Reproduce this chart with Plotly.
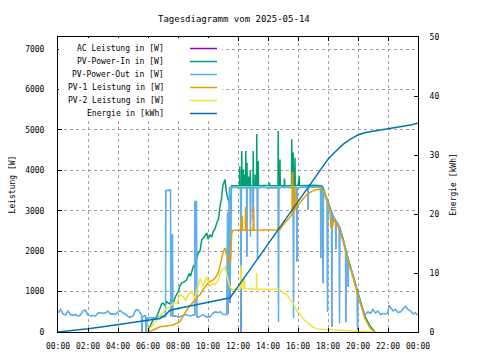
import plotly.graph_objects as go
from datetime import datetime, timedelta

TITLE = "Tagesdiagramm vom 2025-05-14"
Y_TITLE = "Leistung [W]"
Y2_TITLE = "Energie [kWh]"
SERIES_NAMES = ["AC Leistung in [W]", "PV-Power-In in [W]", "PV-Power-Out in [W]",
                "PV-1 Leistung in [W]", "PV-2 Leistung in [W]", "Energie in [kWh]"]
COLORS = ["#9400d3", "#009e73", "#56b4e9", "#e69f00", "#f0e442", "#0072b2"]

pv_power_out = [
    ("00:00", 470), ("00:10", 560), ("00:20", 450), ("00:30", 420), ("00:40", 520), ("00:50", 430),
    ("01:00", 410), ("01:10", 430), ("01:20", 400), ("01:30", 420), ("01:40", 530), ("01:50", 540),
    ("02:00", 420), ("02:10", 400), ("02:20", 410), ("02:30", 400), ("02:40", 470), ("02:50", 480),
    ("03:00", 460), ("03:10", 470), ("03:20", 520), ("03:30", 440), ("03:40", 450), ("03:50", 430),
    ("04:00", 500), ("04:10", 530), ("04:20", 470), ("04:30", 440), ("04:40", 380), ("04:50", 370),
    ("05:00", 390), ("05:10", 540), ("05:20", 550), ("05:30", 450), ("05:34", 430), ("05:36", 0),
    ("05:38", 380), ("05:50", 400), ("05:53", 0), ("05:56", 350), ("06:10", 360), ("06:20", 340),
    ("06:30", 350), ("06:40", 360), ("06:50", 400), ("07:00", 380), ("07:10", 380), ("07:11", 3500),
    ("07:30", 3510), ("07:31", 390), ("07:32", 2420), ("07:38", 2400), ("07:39", 390), ("07:50", 400),
    ("08:00", 370), ("08:10", 380), ("08:20", 420), ("08:30", 440), ("08:40", 410), ("08:50", 400),
    ("09:00", 420), ("09:07", 420), ("09:08", 3230), ("09:14", 3230), ("09:15", 380), ("09:20", 360),
    ("09:30", 400), ("09:40", 420), ("09:50", 380), ("10:00", 370), ("10:10", 380), ("10:20", 470),
    ("10:30", 500), ("10:40", 480), ("10:50", 500), ("11:00", 440), ("11:10", 430), ("11:16", 430),
    ("11:18", 2950), ("11:20", 450), ("11:26", 3580), ("11:28", 720), ("11:33", 3580), ("11:50", 3570),
    ("12:10", 3570), ("12:12", 0), ("12:14", 3570), ("12:34", 3570), ("12:35", 1870), ("12:36", 3570),
    ("12:49", 3570), ("12:50", 2370), ("12:51", 3570), ("13:00", 3560), ("13:01", 2780), ("13:02", 3570),
    ("13:17", 3570), ("13:18", 1800), ("13:19", 3570), ("13:40", 3580), ("14:00", 3570), ("14:41", 3570),
    ("14:42", 255), ("14:43", 3570), ("15:00", 3580), ("15:41", 3570), ("15:42", 350), ("15:43", 3570),
    ("15:54", 3570), ("15:55", 1750), ("15:56", 3570), ("16:20", 3580), ("16:40", 3580), ("16:41", 3030),
    ("16:42", 3590), ("17:00", 3590), ("17:30", 3590), ("17:31", 1830), ("17:32", 3580), ("17:38", 3560),
    ("17:41", 1210), ("17:42", 3500), ("17:48", 3400), ("17:57", 3260), ("17:58", 505), ("17:59", 3240),
    ("18:08", 3030), ("18:14", 2950), ("18:15", 130), ("18:16", 2930), ("18:28", 2780), ("18:30", 2760),
    ("18:31", 2050), ("18:32", 2750), ("18:41", 2660), ("18:45", 2620), ("18:46", 220), ("18:47", 2600),
    ("19:01", 2285), ("19:10", 2050), ("19:11", 255), ("19:12", 2030), ("19:20", 1810), ("19:21", 1125),
    ("19:22", 1790), ("19:41", 1375), ("19:57", 1000), ("19:58", 50), ("19:59", 980), ("20:01", 920),
    ("20:15", 630), ("20:28", 420), ("20:40", 500), ("20:50", 460), ("21:00", 560), ("21:10", 470),
    ("21:20", 520), ("21:30", 430), ("21:40", 460), ("21:50", 450), ("22:00", 470), ("22:04", 660),
    ("22:10", 610), ("22:20", 520), ("22:30", 560), ("22:40", 480), ("22:50", 500), ("23:00", 560),
    ("23:10", 640), ("23:20", 560), ("23:30", 520), ("23:40", 450), ("23:50", 470), ("24:00", 420),
]

# AC output is read as identical to PV-Power-Out (it is hidden beneath it in the picture)
ac_leistung = list(pv_power_out)

pv_power_in = [
    ("05:58", 0), ("06:10", 150), ("06:20", 300), ("06:35", 380), ("06:45", 560), ("06:55", 700),
    ("07:01", 710), ("07:08", 650), ("07:15", 750), ("07:25", 700), ("07:35", 780), ("07:41", 715),
    ("07:50", 880), ("08:01", 1000), ("08:08", 1150), ("08:15", 1215), ("08:25", 1240), ("08:35", 1290),
    ("08:45", 1450), ("08:50", 1380), ("09:01", 1620), ("09:10", 1700), ("09:21", 1955), ("09:28", 2000),
    ("09:35", 2285), ("09:45", 2350), ("09:55", 2450), ("10:00", 2300), ("10:08", 2400), ("10:15", 2350),
    ("10:21", 2490), ("10:28", 2550), ("10:35", 2700), ("10:42", 2800), ("10:48", 3110), ("10:54", 3300),
    ("10:59", 3610), ("11:04", 3700), ("11:08", 3775), ("11:13", 3500), ("11:17", 3360), ("11:25", 3200),
    ("11:30", 3300), ("11:35", 3620), ("12:06", 3620), ("12:07", 4100), ("12:08", 3620), ("12:14", 3620),
    ("12:15", 4480), ("12:16", 3620), ("12:20", 3620), ("12:21", 4020), ("12:22", 3620), ("12:24", 3620),
    ("12:25", 3900), ("12:26", 3620), ("12:30", 3620), ("12:31", 4480), ("12:32", 3620), ("12:35", 3620),
    ("12:36", 4190), ("12:37", 3620), ("12:42", 3620), ("12:43", 3850), ("12:44", 3620), ("12:48", 3620),
    ("12:49", 4000), ("12:50", 3620), ("13:00", 3620), ("13:01", 4480), ("13:02", 3620), ("13:08", 3620),
    ("13:09", 3900), ("13:10", 3620), ("13:14", 3620), ("13:15", 4900), ("13:16", 3620), ("13:20", 3620),
    ("13:21", 4230), ("13:22", 3620), ("14:05", 3630), ("14:06", 3700), ("14:07", 3620), ("14:40", 3620),
    ("14:41", 4975), ("14:42", 3620), ("14:47", 3620), ("14:48", 4270), ("14:49", 3620), ("15:05", 3620),
    ("15:06", 3800), ("15:07", 3620), ("15:34", 3620), ("15:35", 4770), ("15:36", 3620), ("15:40", 3620),
    ("15:41", 4440), ("15:42", 3620), ("15:47", 3620), ("15:48", 4310), ("15:49", 3620), ("16:00", 3630),
    ("16:05", 3850), ("16:06", 3620), ("16:30", 3630), ("17:00", 3630), ("17:35", 3620), ("17:41", 3560),
    ("17:48", 3430), ("17:55", 3300), ("18:08", 3060), ("18:14", 2950), ("18:20", 2870), ("18:28", 2780),
    ("18:41", 2650), ("19:01", 2280), ("19:21", 1790), ("19:41", 1380), ("20:01", 930), ("20:15", 640),
    ("20:28", 380), ("20:48", 150), ("21:08", 0),
]

pv1_leistung = [
    ("05:58", 0), ("06:21", 50), ("06:48", 130), ("07:10", 150), ("07:41", 175), ("08:08", 255),
    ("08:20", 400), ("08:35", 546), ("08:48", 650), ("09:01", 750), ("09:15", 850), ("09:28", 920),
    ("09:40", 1050), ("09:55", 1170), ("10:08", 1250), ("10:21", 1290), ("10:30", 1350), ("10:41", 1455),
    ("10:48", 1650), ("10:55", 1870), ("11:02", 2000), ("11:08", 2080), ("11:12", 1950), ("11:17", 1900),
    ("11:25", 1700), ("11:30", 1750), ("11:33", 2100), ("11:35", 2450), ("11:40", 2520), ("12:13", 2520),
    ("12:14", 2860), ("12:17", 2860), ("12:18", 2520), ("12:29", 2520), ("12:30", 3100), ("12:32", 2600),
    ("12:33", 2520), ("13:00", 2520), ("13:01", 3110), ("13:03", 3110), ("13:04", 2520), ("13:40", 2530),
    ("14:10", 2530), ("14:40", 2530), ("14:41", 2615), ("14:42", 2530), ("14:48", 2530), ("15:00", 2650),
    ("15:15", 2750), ("15:28", 2860), ("15:36", 2900), ("15:37", 3940), ("15:39", 3940), ("15:40", 2950),
    ("15:47", 3000), ("15:48", 3610), ("15:49", 3050), ("15:54", 3100), ("15:55", 3300), ("15:56", 3120),
    ("16:01", 3150), ("16:18", 3280), ("16:35", 3400), ("16:55", 3480), ("17:15", 3526), ("17:30", 3530),
    ("17:41", 3500), ("17:48", 3380), ("17:55", 3250), ("18:02", 3100), ("18:08", 3000), ("18:12", 2600),
    ("18:18", 2550), ("18:22", 2820), ("18:28", 2720), ("18:41", 2600), ("18:50", 2450), ("19:01", 2230),
    ("19:10", 2000), ("19:21", 1740), ("19:30", 1550), ("19:41", 1330), ("20:01", 880), ("20:15", 590),
    ("20:28", 330), ("20:48", 100), ("21:08", 0),
]

pv2_leistung = [
    ("05:55", 0), ("06:28", 255), ("06:48", 380), ("07:08", 546), ("07:28", 630), ("07:41", 710),
    ("07:55", 700), ("08:08", 920), ("08:21", 880), ("08:30", 780), ("08:41", 920), ("08:55", 1000),
    ("09:08", 830), ("09:18", 1100), ("09:28", 1330), ("09:41", 1130), ("09:55", 1375), ("10:08", 1125),
    ("10:18", 1200), ("10:28", 1170), ("10:41", 1290), ("10:55", 1540), ("11:08", 1600), ("11:17", 1370),
    ("11:25", 1170), ("11:35", 1040), ("11:45", 1060), ("12:08", 1060), ("12:09", 1660), ("12:12", 1660),
    ("12:13", 1100), ("12:20", 1080), ("12:21", 1290), ("12:26", 1290), ("12:27", 1070), ("13:14", 1060),
    ("13:15", 1455), ("13:16", 1060), ("14:00", 1060), ("14:40", 1060), ("14:48", 1040), ("15:01", 970),
    ("15:15", 930), ("15:28", 800), ("15:41", 720), ("15:55", 520), ("16:08", 450), ("16:21", 320),
    ("16:35", 250), ("17:01", 115), ("17:28", 65), ("18:21", 50), ("19:15", 30), ("20:08", 5),
    ("21:01", 0),
]

energie = [
    ("00:00", 0.0), ("01:00", 0.25), ("02:00", 0.56), ("03:00", 0.9), ("04:00", 1.3), ("05:00", 1.65),
    ("06:00", 2.0), ("06:20", 2.1), ("06:48", 2.3), ("07:10", 2.9), ("07:28", 3.7), ("08:00", 4.0),
    ("09:00", 4.5), ("10:00", 5.0), ("11:00", 5.5), ("11:28", 5.8), ("12:00", 7.7), ("13:00", 11.3),
    ("14:00", 14.9), ("15:00", 18.5), ("16:00", 22.1), ("17:00", 25.7), ("18:00", 29.3), ("18:30", 30.6),
    ("19:00", 31.8), ("19:30", 32.7), ("20:00", 33.4), ("20:30", 33.8), ("21:00", 34.0), ("21:30", 34.2),
    ("22:00", 34.4), ("22:30", 34.6), ("23:00", 34.8), ("23:30", 35.1), ("24:00", 35.4),
]

Y_RANGE = [0, 7300]
Y2_RANGE = [0, 50]

BASE = datetime(2025, 5, 14)


def ts(s):
    h, m = map(int, s.split(":"))
    return BASE + timedelta(hours=h, minutes=m)


FONT = "DejaVu Sans Mono"
FS = 8

fig = go.Figure()
all_series = [ac_leistung, pv_power_in, pv_power_out, pv1_leistung, pv2_leistung, energie]
widths = [1, 1.5, 1.5, 1.5, 1.5, 1.5]
for i, (name, data, col) in enumerate(zip(SERIES_NAMES, all_series, COLORS)):
    fig.add_trace(go.Scatter(
        x=[ts(a) for a, _ in data], y=[v for _, v in data], name=name, mode="lines",
        line=dict(color=col, width=widths[i]), showlegend=False,
        yaxis="y2" if i == 5 else "y",
    ))

# page offset of the html body (default 8px margin) is compensated in the figure margins
OFF = 8
# plot-area geometry in page pixels
L, R, T, B = 58, 418, 37, 332
W, H = R - L, B - T


def px(x):
    return (x - L) / W


def py(y):
    return (B - y) / H


shapes = [dict(type="rect", xref="paper", yref="paper", x0=px(L + 1), x1=px(222),
               y0=py(119), y1=py(T + 1), fillcolor="white", line=dict(width=0), layer="above")]
annotations = [dict(text=TITLE, xref="paper", yref="paper", x=px(234), y=py(19),
                    xanchor="center", yanchor="middle", showarrow=False,
                    font=dict(family=FONT, size=9, color="black"))]
for i, (name, col) in enumerate(zip(SERIES_NAMES, COLORS)):
    yy = 48.5 + i * 13
    annotations.append(dict(text=name, xref="paper", yref="paper", x=px(166), y=py(yy),
                            xanchor="right", yanchor="middle", showarrow=False,
                            font=dict(family=FONT, size=FS, color="black")))
    shapes.append(dict(type="line", xref="paper", yref="paper", x0=px(190), x1=px(217),
                       y0=py(yy), y1=py(yy), line=dict(color=col, width=1.5), layer="above"))

axis_common = dict(ticks="inside", ticklen=4, tickcolor="black", showline=True,
                   linecolor="black", linewidth=1, zeroline=False,
                   tickfont=dict(family=FONT, size=FS, color="black"))

FIG_W, FIG_H = 480 - OFF, 360 - OFF
fig.update_layout(
    width=FIG_W, height=FIG_H,
    margin=dict(l=L - OFF, r=FIG_W - (R - OFF), t=T - OFF, b=FIG_H - (B - OFF), autoexpand=False),
    paper_bgcolor="white", plot_bgcolor="white",
    font=dict(family=FONT, size=FS, color="black"),
    xaxis=dict(type="date", range=[ts("00:00"), ts("24:00")], dtick=7200000, tickformat="%H:%M",
               mirror="ticks", showgrid=True, gridcolor="#a0a0a0", gridwidth=1, griddash="3px,3px",
               ticklabelstandoff=6, **axis_common),
    yaxis=dict(range=Y_RANGE, dtick=1000, tick0=0, mirror=True, showgrid=True,
               gridcolor="#a0a0a0", gridwidth=1, griddash="3px,3px", ticklabelstandoff=11,
               title=dict(text=Y_TITLE, standoff=12, font=dict(family=FONT, size=FS, color="black")),
               **axis_common),
    yaxis2=dict(range=Y2_RANGE, dtick=10, tick0=0, overlaying="y", side="right", showgrid=False,
                ticklabelstandoff=9,
                title=dict(text=Y2_TITLE, standoff=11, font=dict(family=FONT, size=FS, color="black")),
                **axis_common),
    shapes=shapes, annotations=annotations,
)

fig.write_html("out.html")
